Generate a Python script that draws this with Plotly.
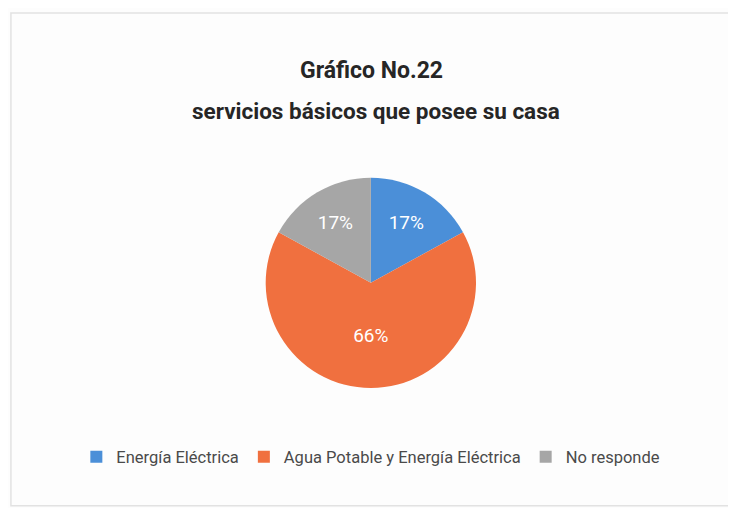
import plotly.graph_objects as go

categories = ["Energía Eléctrica", "Agua Potable y Energía Eléctrica", "No responde"]
values = [17, 66, 17]
colors = ["#4b8fd8", "#f0703f", "#a6a6a6"]
title_lines = ["Gráfico No.22", "servicios básicos que posee su casa"]

fig = go.Figure()
fig.add_trace(go.Pie(
    labels=categories,
    values=values,
    marker=dict(colors=colors, line=dict(color="#ffffff", width=0)),
    sort=False,
    direction="clockwise",
    rotation=0,
    textinfo="percent",
    texttemplate="%{percent:.0%}",
    textposition="inside",
    insidetextorientation="horizontal",
    textfont=dict(color="#ffffff", size=19, family="Roboto, sans-serif"),
    domain=dict(x=[0.350, 0.636], y=[0.252, 0.666]),
    hoverinfo="label+percent",
))

fig.update_layout(
    width=736, height=508,
    margin=dict(l=0, r=0, t=0, b=0),
    paper_bgcolor="#fdfdfd",
    plot_bgcolor="#fdfdfd",
    annotations=[
        dict(text="<b>" + title_lines[0] + "</b>", xref="paper", yref="paper",
             x=0.494, y=1 - 62 / 508, xanchor="center", yanchor="middle", showarrow=False,
             font=dict(family="Roboto, sans-serif", size=23, color="#262626")),
        dict(text="<b>" + title_lines[1] + "</b>", xref="paper", yref="paper",
             x=0.500, y=1 - 103 / 508, xanchor="center", yanchor="middle", showarrow=False,
             font=dict(family="Roboto, sans-serif", size=22.5, color="#262626")),
    ],
    legend=dict(
        orientation="h",
        x=0.493, xanchor="center",
        y=1 - 449 / 508, yanchor="middle",
        font=dict(family="Roboto, sans-serif", size=16.5, color="#4a4a4a"),
        itemwidth=30,
        traceorder="normal",
    ),
    shapes=[dict(type="rect", xref="paper", yref="paper", x0=0.004, x1=0.993, y0=0.02, y1=0.99,
                 line=dict(color="#e2e2e2", width=1.5), fillcolor="rgba(0,0,0,0)")],
)

fig.write_html("out.html")
